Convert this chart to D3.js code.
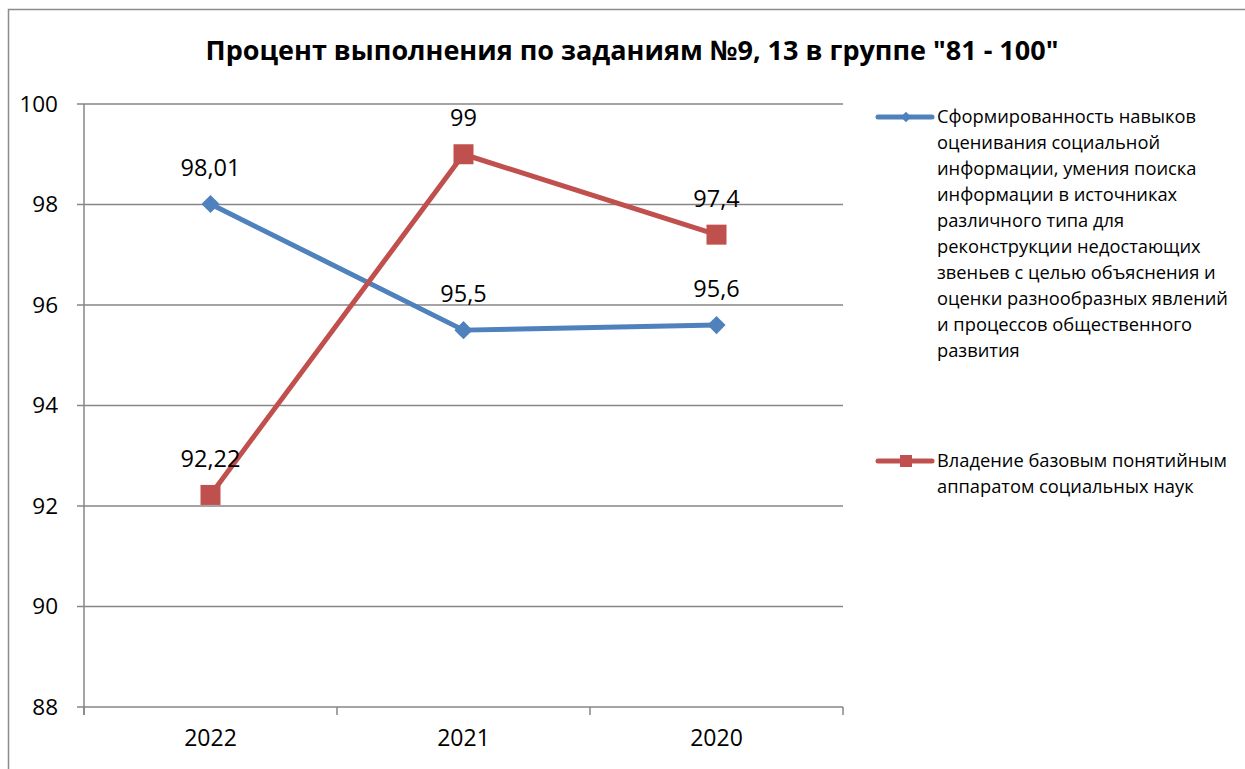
<!DOCTYPE html>
<html>
<head>
<meta charset="utf-8">
<script src="https://d3js.org/d3.v7.min.js"></script>
<style>
  body { margin: 0; background: #fff; }
  * { font-family: "Open Sans", "Liberation Sans", sans-serif; }
</style>
</head>
<body>
<script>
  // data
  var years = ["2022", "2021", "2020"];
  var skillsValues = [98.01, 95.5, 95.6];
  var conceptsValues = [92.22, 99, 97.4];
  var yTicks = [88, 90, 92, 94, 96, 98, 100];
  var legendLines = [
    ["Сформированность навыков", "оценивания социальной", "информации, умения поиска",
     "информации в источниках", "различного типа для", "реконструкции недостающих",
     "звеньев с целью объяснения и", "оценки разнообразных явлений",
     "и процессов общественного", "развития"],
    ["Владение базовым понятийным", "аппаратом социальных наук"]
  ];
  var title = "Процент выполнения по заданиям №9, 13 в группе \"81 - 100\"";

  var W = 1245, H = 769;
  var plot = {left: 84, right: 843, top: 104, bottom: 707};
  var colors = ["#4F81BD", "#C0504D"];

  var svg = d3.select("body").append("svg")
      .attr("width", W)
      .attr("height", H);

  // chart border
  svg.append("rect")
      .attr("x", 8.5).attr("y", 9.5)
      .attr("width", W + 10).attr("height", H + 10)
      .attr("fill", "none")
      .attr("stroke", "#8c8c8c")
      .attr("stroke-width", 1.5);

  var x = d3.scaleBand()
      .domain(years)
      .range([plot.left, plot.right]);

  var y = d3.scaleLinear()
      .domain([88, 100])
      .range([plot.bottom, plot.top]);

  // gridlines
  svg.append("g")
    .selectAll("line")
    .data(yTicks)
    .enter().append("line")
      .attr("x1", plot.left - 7)
      .attr("x2", plot.right)
      .attr("y1", d => y(d))
      .attr("y2", d => y(d))
      .attr("stroke", "#868686")
      .attr("stroke-width", 1.5);

  // y axis line
  svg.append("line")
      .attr("x1", plot.left).attr("x2", plot.left)
      .attr("y1", plot.top).attr("y2", plot.bottom + 8)
      .attr("stroke", "#868686")
      .attr("stroke-width", 1.5);

  // x axis
  var xAxis = svg.append("g")
      .attr("transform", "translate(0," + plot.bottom + ")")
      .call(d3.axisBottom(x).tickSize(0).tickPadding(23));
  xAxis.select(".domain").remove();
  xAxis.selectAll("text")
      .attr("font-size", 23)
      .attr("fill", "#000")
      .style("font-family", "'Open Sans', sans-serif");

  var boundaries = years.map(d => x(d)).concat([plot.right]);
  svg.append("g")
    .selectAll("line")
    .data(boundaries)
    .enter().append("line")
      .attr("x1", d => d).attr("x2", d => d)
      .attr("y1", plot.bottom).attr("y2", plot.bottom + 8)
      .attr("stroke", "#868686")
      .attr("stroke-width", 1.5);

  // y labels
  svg.append("g")
    .selectAll("text")
    .data(yTicks)
    .enter().append("text")
      .attr("x", 58)
      .attr("y", d => y(d))
      .attr("dy", "0.35em")
      .attr("text-anchor", "end")
      .attr("font-size", 22.5)
      .text(d => d);

  var cx = d => x(d) + x.bandwidth() / 2;
  var series = [skillsValues, conceptsValues];

  var line = d3.line()
      .x((d, i) => cx(years[i]))
      .y(d => y(d));

  series.forEach(function(vals, s) {
    svg.append("path")
        .datum(vals)
        .attr("d", line)
        .attr("fill", "none")
        .attr("stroke", colors[s])
        .attr("stroke-width", 5)
        .attr("stroke-linejoin", "round");
  });

  // markers
  var diamond = d3.symbol().type(d3.symbolDiamond2).size(210);
  svg.append("g")
    .selectAll("path")
    .data(skillsValues)
    .enter().append("path")
      .attr("d", diamond)
      .attr("transform", (d, i) => "translate(" + cx(years[i]) + "," + y(d) + ")")
      .attr("fill", colors[0]);

  svg.append("g")
    .selectAll("rect")
    .data(conceptsValues)
    .enter().append("rect")
      .attr("x", (d, i) => cx(years[i]) - 10)
      .attr("y", d => y(d) - 10)
      .attr("width", 20).attr("height", 20)
      .attr("fill", colors[1]);

  // data labels
  var fmt = d => String(d).replace(".", ",");
  series.forEach(function(vals, s) {
    svg.append("g")
      .selectAll("text")
      .data(vals)
      .enter().append("text")
        .attr("x", (d, i) => cx(years[i]))
        .attr("y", d => y(d) - 36)
        .attr("dy", "0.35em")
        .attr("text-anchor", "middle")
        .attr("font-size", 23.5)
        .text(fmt);
  });

  // title
  svg.append("text")
      .attr("x", 632)
      .attr("y", 51)
      .attr("dy", "0.35em")
      .attr("text-anchor", "middle")
      .attr("font-size", 27)
      .attr("font-weight", "bold")
      .text(title);

  // legend
  var legendY = [117, 461];
  legendLines.forEach(function(lines, s) {
    var g = svg.append("g").attr("transform", "translate(0," + legendY[s] + ")");
    g.append("line")
        .attr("x1", 878).attr("x2", 932)
        .attr("y1", 0).attr("y2", 0)
        .attr("stroke", colors[s])
        .attr("stroke-width", 5)
        .attr("stroke-linecap", "round");
    if (s === 0) {
      g.append("path")
          .attr("d", d3.symbol().type(d3.symbolDiamond2).size(70))
          .attr("transform", "translate(906,0)")
          .attr("fill", colors[s]);
    } else {
      g.append("rect")
          .attr("x", 900).attr("y", -6)
          .attr("width", 12).attr("height", 12)
          .attr("fill", colors[s]);
    }
    g.selectAll("text")
      .data(lines)
      .enter().append("text")
        .attr("x", 937)
        .attr("y", (d, i) => i * 26)
        .attr("dy", "0.35em")
        .attr("font-size", 18.3)
        .text(d => d);
  });
</script>
</body>
</html>
